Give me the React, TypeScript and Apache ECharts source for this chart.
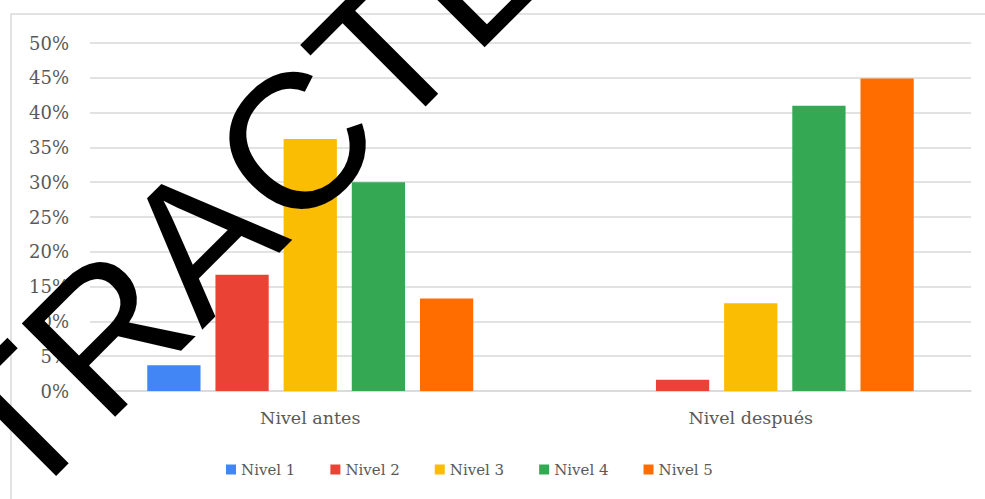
import React, { useEffect, useRef } from "react";
import * as echarts from "echarts";

const categories = ["Nivel antes", "Nivel después"];
const seriesNames = ["Nivel 1", "Nivel 2", "Nivel 3", "Nivel 4", "Nivel 5"];
const nivel1 = [3.7, 0];
const nivel2 = [16.7, 1.6];
const nivel3 = [36.2, 12.6];
const nivel4 = [30.0, 41.0];
const nivel5 = [13.3, 44.9];
const seriesValues = [nivel1, nivel2, nivel3, nivel4, nivel5];
const colors = ["#4285F4", "#EA4335", "#FBBC04", "#34A853", "#FF6D01"];
const watermark = "EXTRACTED";

export default function App() {
  const ref = useRef<HTMLDivElement>(null);
  useEffect(() => {
    if (!ref.current) return;
    const chart = echarts.init(ref.current, null, { renderer: "svg" });
    const serif = "DejaVu Serif";
    chart.setOption({
      animation: false,
      backgroundColor: "#ffffff",
      textStyle: { fontFamily: serif },
      grid: { left: 90, right: 14, top: 43, bottom: 108, containLabel: false },
      legend: {
        data: seriesNames,
        left: 221,
        top: 457,
        itemWidth: 10,
        itemHeight: 10,
        itemGap: 35,
        icon: "rect",
        textStyle: { fontFamily: serif, fontSize: 15, color: "#595959" },
      },
      xAxis: {
        type: "category",
        data: categories,
        axisTick: { show: false },
        axisLine: { lineStyle: { color: "#d9d9d9", width: 1.5 } },
        axisLabel: { fontFamily: serif, fontSize: 17.5, color: "#595959", margin: 18 },
      },
      yAxis: {
        type: "value",
        min: 0,
        max: 50,
        interval: 5,
        axisLine: { show: false },
        axisTick: { show: false },
        axisLabel: {
          formatter: "{value}%",
          fontFamily: serif,
          fontSize: 18,
          color: "#595959",
          margin: 21,
        },
        splitLine: { lineStyle: { color: "#d9d9d9", width: 1.5 } },
      },
      series: seriesNames.map((name, i) => ({
        name,
        type: "bar",
        data: seriesValues[i],
        itemStyle: { color: colors[i] },
        barGap: "28%",
        barCategoryGap: "26%",
      })),
      graphic: [
        {
          type: "rect",
          z: -1,
          silent: true,
          shape: { x: 11, y: 14, width: 990, height: 600 },
          style: { fill: "none", stroke: "#d9d9d9", lineWidth: 1.5 },
        },
        {
          type: "text",
          z: 100,
          silent: true,
          x: 204,
          y: 234,
          rotation: Math.PI / 4,
          style: {
            text: watermark,
            fontFamily: "Liberation Sans",
            fontSize: 192,
            fill: "#000000",
            align: "center",
            verticalAlign: "middle",
          },
        },
      ],
    });
    return () => chart.dispose();
  }, []);
  return (
    <div
      ref={ref}
      style={{ position: "absolute", left: 0, top: 0, width: 985, height: 499 }}
    />
  );
}
